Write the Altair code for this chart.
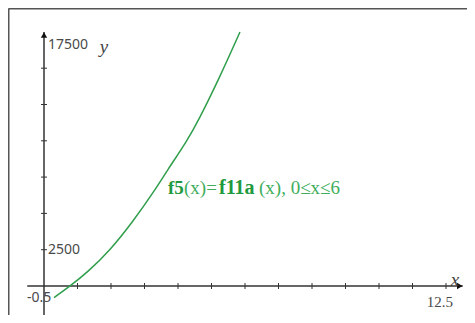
import altair as alt
import pandas as pd

# ---- data ----
curve_x = [0.3, 0.78, 1.3, 1.97, 2.66, 3.31, 3.67, 4.27, 4.6, 5.25, 5.85]
curve_y = [-800, 0, 950, 2450, 4450, 6600, 7930, 10000, 11350, 14400, 17490]
x_ticks = [1, 2, 3, 4, 5, 6, 7, 8, 9, 10, 11, 12]
y_ticks = [2500, 5000, 7500, 10000, 12500, 15000]
x_min, x_max = -0.5, 12.5
y_max = 17500
y_tick_labels = ["17500", "2500"]
x_end_labels = ["-0.5", "12.5"]
func_parts = ["f5", "(x)=", "f11a", "(x), 0≤x≤6"]

# ---- layout (pixel mapping) ----
W, H = 457, 305
PAD = 2
OFF = 8 + PAD            # page offset of the view origin
X0 = 44 - OFF            # view px of x = 0
PX_X = 33.5              # px per x unit
Y0 = 286 - OFF           # view px of y = 0
PX_Y = 36.3 / 2500       # px per y unit
TICK = 3                 # half tick length, px

xdom = [-X0 / PX_X, (W - X0) / PX_X]
ydom = [-(H - Y0) / PX_Y, Y0 / PX_Y]
xs = alt.Scale(domain=xdom, nice=False, zero=False)
ys = alt.Scale(domain=ydom, nice=False, zero=False)


def px2x(px):
    return (px - OFF - X0) / PX_X


def px2y(py):
    return (Y0 - (py - OFF)) / PX_Y


AX = "#333333"
GREEN = "#2f9e4c"
LBL = "#4a4a4a"


def X(field="x"):
    return alt.X(f"{field}:Q", scale=xs, axis=None)


def Y(field="y"):
    return alt.Y(f"{field}:Q", scale=ys, axis=None)


dummy = pd.DataFrame({"a": [0]})

# frame (top and left border)
frame_top = alt.Chart(dummy).mark_rule(color="#555555", strokeWidth=2).encode(
    x=alt.value(-1.5), x2=alt.value(W + 5), y=alt.value(-1.5))
frame_left = alt.Chart(dummy).mark_rule(color="#555555", strokeWidth=2).encode(
    x=alt.value(-1.5), y=alt.value(-1.5), y2=alt.value(H + 5))

# axes
xaxis = alt.Chart(pd.DataFrame({"x": [x_min], "x2": [x_max], "y": [0]})).mark_rule(
    color=AX, strokeWidth=1.5).encode(x=X(), x2="x2:Q", y=Y())
yaxis = alt.Chart(pd.DataFrame({"x": [0], "y": [ydom[0]], "y2": [y_max]})).mark_rule(
    color=AX, strokeWidth=1.5).encode(x=X(), y=Y(), y2="y2:Q")

arrow_up = alt.Chart(pd.DataFrame({"x": [0], "y": [y_max - 3 / PX_Y]})).mark_point(
    shape="triangle-up", filled=True, color="#111111", size=40, opacity=1).encode(x=X(), y=Y())
arrow_right = alt.Chart(pd.DataFrame({"x": [x_max - 3 / PX_X], "y": [0]})).mark_point(
    shape="triangle-right", filled=True, color="#111111", size=40, opacity=1).encode(x=X(), y=Y())

xt_df = pd.DataFrame({"x": x_ticks})
xt_df["y"] = -TICK / PX_Y
xt_df["y2"] = TICK / PX_Y
xt = alt.Chart(xt_df).mark_rule(strokeWidth=1, color=AX).encode(x=X(), y=Y(), y2="y2:Q")

yt_df = pd.DataFrame({"y": y_ticks})
yt_df["x"] = -TICK / PX_X
yt_df["x2"] = TICK / PX_X
yt = alt.Chart(yt_df).mark_rule(strokeWidth=1, color=AX).encode(x=X(), x2="x2:Q", y=Y())

# curve
curve = alt.Chart(pd.DataFrame({"x": curve_x, "y": curve_y})).mark_line(
    color=GREEN, strokeWidth=1.5, interpolate="basis").encode(x=X(), y=Y(), order="x:Q")

# tick/end labels
ylab = alt.Chart(pd.DataFrame({"x": [px2x(48)] * 2, "y": [px2y(45), 2500], "t": y_tick_labels})).mark_text(
    align="left", baseline="middle", font="Noto Sans", fontSize=14, color=LBL).encode(
    x=X(), y=Y(), text="t:N")
xlab_l = alt.Chart(pd.DataFrame({"x": [px2x(27)], "y": [px2y(298)], "t": [x_end_labels[0]]})).mark_text(
    align="left", baseline="middle", font="Noto Sans", fontSize=14, color=LBL).encode(x=X(), y=Y(), text="t:N")
xlab_r = alt.Chart(pd.DataFrame({"x": [px2x(453)], "y": [px2y(302)], "t": [x_end_labels[1]]})).mark_text(
    align="right", baseline="middle", font="Liberation Serif", fontSize=15, color=LBL).encode(x=X(), y=Y(), text="t:N")

yname = alt.Chart(pd.DataFrame({"x": [px2x(104)], "y": [px2y(47)], "t": ["y"]})).mark_text(
    align="center", baseline="middle", font="Liberation Serif", fontStyle="italic", fontSize=19,
    color="#444444").encode(x=X(), y=Y(), text="t:N")
xname = alt.Chart(pd.DataFrame({"x": [px2x(455)], "y": [px2y(280)], "t": ["x"]})).mark_text(
    align="center", baseline="middle", font="Liberation Serif", fontStyle="italic", fontSize=19,
    color="#444444").encode(x=X(), y=Y(), text="t:N")

# function label
starts = [168, 184, 219, 259]
weights = ["bold", "normal", "bold", "normal"]
sizes = [19, 19, 20, 19]
colors = ["#1f9a3e", "#3fae5c", "#1f9a3e", "#3fae5c"]
flabels = []
for t, s, w, fs, c in zip(func_parts, starts, weights, sizes, colors):
    flabels.append(
        alt.Chart(pd.DataFrame({"x": [px2x(s)], "y": [px2y(188)], "t": [t]})).mark_text(
            align="left", baseline="middle", font="Liberation Serif", fontSize=fs,
            fontWeight=w, color=c).encode(x=X(), y=Y(), text="t:N"))

chart = alt.layer(
    frame_top, frame_left, xaxis, yaxis, xt, yt, arrow_up, arrow_right, curve,
    ylab, xlab_l, xlab_r, yname, xname, *flabels
).properties(
    width=W, height=H,
    padding={"left": PAD, "top": PAD, "right": 0, "bottom": 0},
    autosize=alt.AutoSizeParams(type="none"),
    background="white",
).configure_view(stroke=None)

chart.save("out.html", embed_options={"renderer": "svg", "actions": False})
